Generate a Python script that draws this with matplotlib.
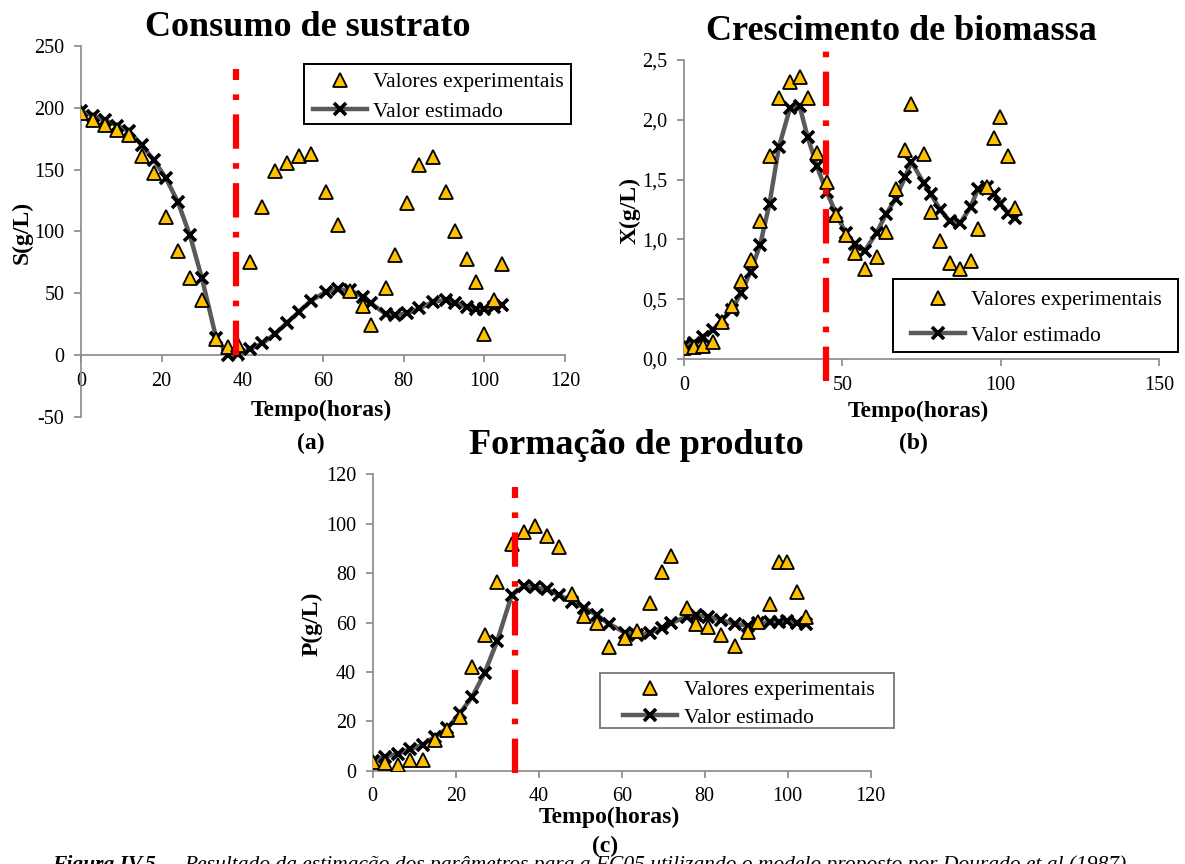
import matplotlib
matplotlib.use("Agg")
import matplotlib.pyplot as plt
from matplotlib.patches import Rectangle
from matplotlib.ticker import FuncFormatter

# sampling times (h), shared by the three runs
tempo = [0, 3, 6, 9, 12, 15, 18, 21, 24, 27, 30, 33.5, 36.5, 39, 42, 45,
         48, 51, 54, 57, 60.8, 63.8, 66.8, 69.8, 71.8, 75.7, 77.9, 80.9,
         83.9, 87.3, 90.5, 92.8, 95.8, 97.9, 99.9, 102.3, 104.5]

# substrate S (g/L)
S_exp = [196, 190, 186, 182, 178, 161, 147, 112, 84, 62, 45, 13, 7, 8, 75,
         120, 149, 155, 161, 163, 132, 105, 52, 40, 24, 54, 81, 123, 154,
         160, 132, 100, 78, 59, 17, 45, 74]
S_est = [197.5, 193.5, 190, 185.5, 181, 170, 158, 143.5, 124, 97, 62, 14,
         0, 1, 5, 9.5, 17, 26, 35, 44, 51.3, 53.2, 52.5, 47.3, 42, 33, 32.4,
         33.8, 37.8, 43.2, 44.6, 42.4, 38.6, 37, 37, 39, 40.5]

# biomass X (g/L)
X_exp = [0.09, 0.10, 0.11, 0.145, 0.31, 0.44, 0.655, 0.83, 1.15, 1.70, 2.18,
         2.32, 2.36, 2.185, 1.725, 1.48, 1.20, 1.04, 0.89, 0.75, 0.855, 1.06,
         1.42, 1.75, 2.13, 1.71, 1.23, 0.99, 0.80, 0.75, 0.82, 1.087, 1.44,
         1.845, 2.02, 1.70, 1.26]
X_est = [0.117, 0.13, 0.186, 0.24, 0.325, 0.41, 0.55, 0.73, 0.95, 1.30, 1.775,
         2.10, 2.115, 1.86, 1.61, 1.40, 1.22, 1.056, 0.96, 0.90, 1.056, 1.21,
         1.34, 1.52, 1.65, 1.47, 1.38, 1.25, 1.15, 1.14, 1.27, 1.42, 1.44,
         1.38, 1.30, 1.22, 1.18]

# product P (g/L)
P_exp = [3.6, 3.2, 2.3, 4.3, 4.3, 12.4, 16.5, 21.9, 42.1, 55, 76.3, 91.7,
         96.8, 99, 95, 90.4, 71.5, 62.6, 59.7, 50.2, 53.6, 56.7, 68, 80.3, 87,
         65.7, 59.4, 58, 55, 50.6, 56.3, 60.3, 67.5, 84.6, 84.6, 72.5, 62.4]
P_est = [4, 5.7, 6.8, 8.7, 10.4, 13.8, 17.2, 23.2, 30, 39.7, 52.5, 71.1, 74.8,
         74.2, 73.4, 71.1, 68.4, 66, 63, 59.4, 55.9, 55, 55.9, 57.9, 59.7,
         62.4, 63, 62.4, 61, 59.4, 58.7, 59.7, 60.1, 60.3, 60.6, 59.7, 59.3]

# feed switch times (h)
t_corte = [38.5, 44.8, 34.3]

W, H = 1185, 864
plt.rcParams["font.family"] = ["Liberation Serif", "DejaVu Serif"]
plt.rcParams["axes.unicode_minus"] = False

fig = plt.figure(figsize=(W/100, H/100), dpi=100)


def px(x, y):
    return x/W, 1 - y/H


def make_axes(left, top, right, bottom):
    ax = fig.add_axes([left/W, 1 - bottom/H, (right - left)/W, (bottom - top)/H])
    for s in ("top", "right"):
        ax.spines[s].set_visible(False)
    for s in ("left", "bottom"):
        ax.spines[s].set_color("#888888")
        ax.spines[s].set_linewidth(1.2)
    ax.tick_params(direction="out", length=5, width=1.2, color="#888888",
                   labelsize=14.5, pad=7)
    return ax


def draw_series(ax, y_exp, y_est):
    ax.plot(tempo, y_exp, linestyle="none", marker="^", ms=10,
            mfc="#FFC000", mec="black", mew=1.3, zorder=4,
            label="Valores experimentais")
    ax.plot(tempo, y_est, color="#5a5a5a", lw=3.2, marker="x", ms=8,
            mec="black", mew=2.6, zorder=3, label="Valor estimado")


def red_line(ax, x, y0, y1):
    ax.plot([x, x], [y0, y1], color="red", lw=4.5, dashes=(5.5, 2.3, 0.9, 2.3),
            solid_capstyle="butt", dash_capstyle="butt", zorder=5, clip_on=False)


def legend(ax, hx, ry, spacing, box, edge):
    # hx: left end of the handles, ry: top of the first row, box: frame (x0, y0, x1, y1)
    ax.legend(loc="upper left", bbox_to_anchor=px(hx, ry),
              bbox_transform=fig.transFigure, borderaxespad=0, borderpad=0,
              fontsize=15.5, frameon=False, handlelength=2.5,
              handletextpad=0.3, labelspacing=spacing)
    x0, y0, x1, y1 = box
    fig.add_artist(Rectangle(px(x0, y1), (x1 - x0)/W, (y1 - y0)/H,
                             transform=fig.transFigure, fill=False,
                             edgecolor=edge, lw=1.4, zorder=6))


# (a) substrate
ax1 = make_axes(81, 46, 565, 417)
draw_series(ax1, S_exp, S_est)
red_line(ax1, t_corte[0], 0, 231)
ax1.set_xlim(0, 120)
ax1.set_ylim(-50, 250)
ax1.set_xticks(range(0, 121, 20))
ax1.set_yticks(range(-50, 251, 50))
ax1.spines["bottom"].set_position(("data", 0))
legend(ax1, 312.7, 72, 0.44, (304, 64, 571, 124), "black")

# (b) biomass
ax2 = make_axes(684, 60, 1159, 359)
draw_series(ax2, X_exp, X_est)
red_line(ax2, t_corte[1], -0.18, 2.63)
ax2.set_xlim(0, 150)
ax2.set_ylim(0, 2.5)
ax2.set_xticks([0, 50, 100, 150])
ax2.set_yticks([0, 0.5, 1.0, 1.5, 2.0, 2.5])
ax2.yaxis.set_major_formatter(FuncFormatter(lambda v, p: f"{v:.1f}".replace(".", ",")))
legend(ax2, 910.7, 290, 0.72, (893, 279, 1178, 352), "black")

# (c) product
ax3 = make_axes(372.7, 474.3, 870.7, 770.7)
draw_series(ax3, P_exp, P_est)
red_line(ax3, t_corte[2], -1, 115)
ax3.set_xlim(0, 120)
ax3.set_ylim(0, 120)
ax3.set_xticks(range(0, 121, 20))
ax3.set_yticks(range(0, 121, 20))
legend(ax3, 623.3, 680, 0.35, (600, 673, 894, 728), "#808080")

# titles and labels
titulos = [("Consumo de sustrato", 308, 27), ("Crescimento de biomassa", 901, 31),
           ("Formação de produto", 636, 446)]
for txt, x, y in titulos:
    fig.text(*px(x, y), txt, fontsize=26, fontweight="bold", ha="center", va="center")

for x, y in [(321, 410), (918, 411), (609, 817)]:
    fig.text(*px(x, y), "Tempo(horas)", fontsize=17, fontweight="bold",
             ha="center", va="center")
for txt, x, y in [("(a)", 311, 443), ("(b)", 913, 443), ("(c)", 605, 846)]:
    fig.text(*px(x, y), txt, fontsize=17, fontweight="bold", ha="center", va="center")
for txt, x, y in [("S(g/L)", 22, 232), ("X(g/L)", 630, 211), ("P(g/L)", 312, 624)]:
    fig.text(*px(x, y), txt, fontsize=17, fontweight="bold", rotation=90,
             ha="center", va="center")

# caption, running off the lower edge of the page
fig.text(*px(52, 855), "Figura IV.5-", fontsize=15.5, fontweight="bold",
         style="italic", ha="left", va="top")
fig.text(*px(184, 855), "Resultado da estimação dos parâmetros para a FC05 "
         "utilizando o modelo proposto por Dourado et al (1987)",
         fontsize=15.5, style="italic", ha="left", va="top")

fig.savefig("out.png", dpi=100)
